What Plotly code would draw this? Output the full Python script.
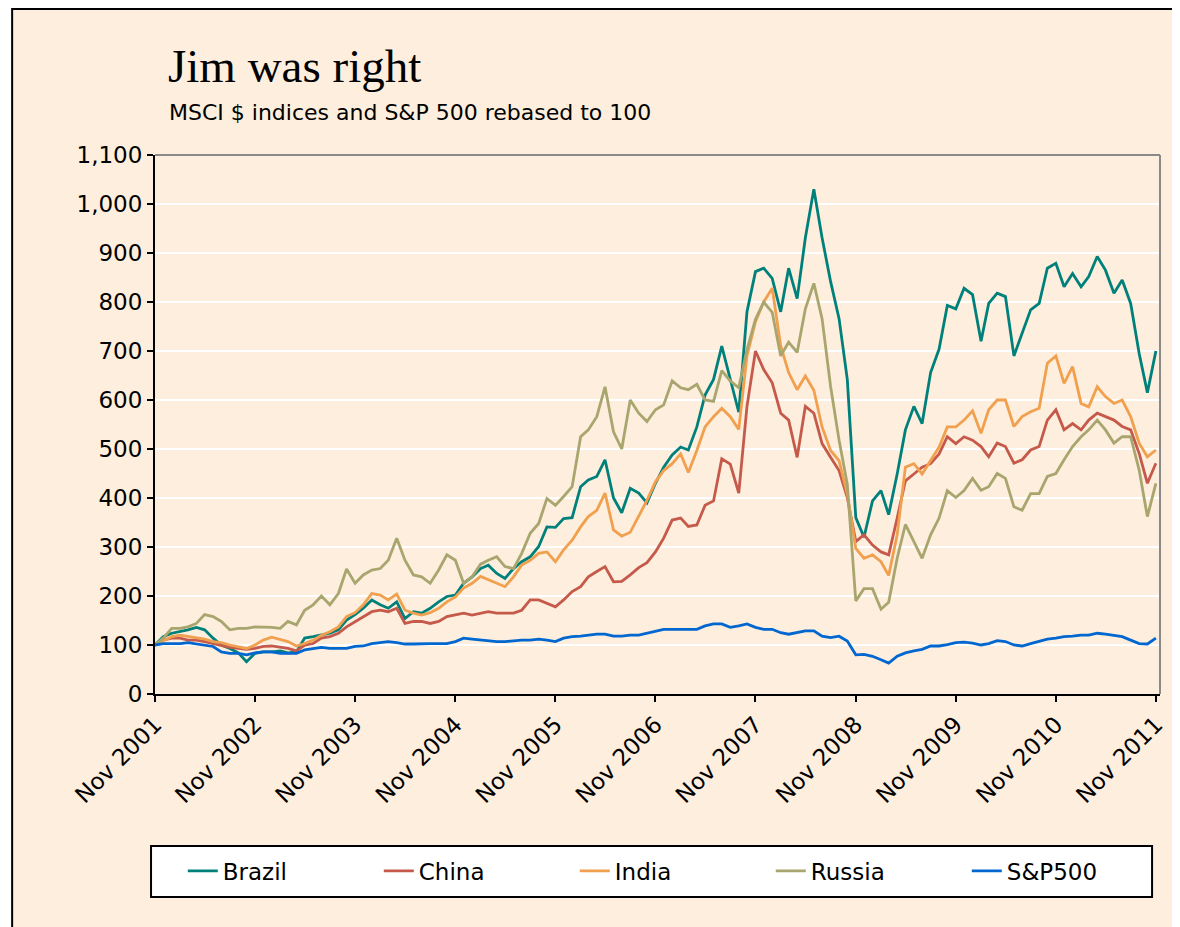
import pandas as pd
import plotly.graph_objects as go

# ---------------- data (monthly, Nov 2001 .. Nov 2011, rebased to 100) ----------------
dates = pd.date_range("2001-11-01", periods=121, freq="MS")

brazil = [100, 117, 124, 127, 131, 136, 131, 114, 100, 93, 84, 66, 83, 86, 86, 88, 84, 86, 114, 117,
          120, 124, 131, 151, 162, 175, 192, 182, 175, 188, 154, 168, 165, 175, 188, 199, 202, 226, 239, 256,
          263, 246, 236, 256, 270, 280, 301, 341, 340, 358, 360, 423, 437, 444, 478, 400, 370, 420, 410, 390,
          430, 463, 488, 504, 498, 545, 610, 642, 710, 642, 575, 780, 862, 869, 848, 780, 869, 807, 931, 1030,
          931, 842, 766, 642, 360, 320, 394, 415, 366, 449, 539, 587, 552, 656, 704, 793, 786, 828, 815, 720,
          797, 818, 811, 690, 736, 784, 797, 869, 879, 831, 858, 831, 852, 893, 865, 818, 845, 797, 695, 615,
          700]

china = [100, 110, 114, 114, 110, 110, 107, 103, 98, 95, 93, 91, 93, 97, 98, 95, 93, 88, 100, 103,
         114, 117, 124, 137, 148, 158, 168, 171, 168, 175, 144, 148, 148, 144, 148, 158, 161, 165, 161, 165,
         168, 165, 165, 165, 171, 192, 192, 185, 178, 192, 209, 219, 239, 250, 260, 229, 230, 243, 258, 268,
         290, 318, 355, 359, 342, 345, 385, 394, 480, 469, 410, 587, 700, 662, 635, 573, 559, 483, 587, 573,
         511, 483, 456, 401, 311, 325, 304, 290, 284, 359, 435, 449, 463, 470, 490, 525, 511, 525, 518, 505,
         484, 512, 505, 471, 478, 498, 505, 559, 580, 539, 552, 539, 559, 573, 566, 559, 546, 539, 491, 430,
         471]

india = [100, 108, 117, 120, 117, 114, 112, 107, 105, 100, 97, 93, 100, 110, 116, 112, 107, 98, 103, 110,
         120, 127, 137, 158, 166, 182, 205, 202, 192, 204, 171, 165, 161, 166, 175, 188, 198, 216, 226, 240,
         233, 226, 219, 239, 263, 273, 287, 290, 270, 294, 314, 341, 362, 375, 410, 335, 322, 330, 362, 395,
         433, 456, 470, 490, 452, 497, 545, 566, 583, 566, 540, 690, 760, 800, 828, 711, 656, 621, 649, 620,
         545, 497, 476, 408, 297, 277, 284, 270, 242, 325, 463, 470, 449, 476, 504, 545, 545, 559, 578, 532,
         580, 600, 600, 546, 566, 576, 583, 675, 690, 634, 668, 593, 586, 627, 607, 593, 600, 566, 512, 484,
         498]

russia = [100, 114, 134, 134, 137, 144, 162, 158, 148, 131, 134, 134, 137, 137, 136, 134, 148, 141, 171, 182,
          200, 182, 205, 255, 226, 243, 253, 256, 273, 318, 273, 243, 239, 226, 253, 284, 273, 226, 239, 265,
          273, 280, 260, 256, 287, 328, 348, 399, 385, 403, 423, 525, 539, 566, 627, 535, 500, 600, 573, 556,
          580, 590, 639, 625, 621, 632, 600, 597, 660, 639, 625, 703, 765, 800, 779, 690, 718, 697, 786, 838,
          766, 628, 518, 428, 190, 215, 215, 173, 187, 277, 346, 311, 277, 325, 359, 415, 401, 415, 440, 416,
          423, 450, 440, 382, 375, 409, 409, 444, 450, 478, 505, 525, 539, 559, 539, 512, 525, 525, 457, 362,
          430]

sp500 = [100, 103, 103, 103, 105, 102, 100, 97, 86, 83, 83, 80, 84, 86, 86, 83, 83, 83, 90, 93,
         95, 93, 93, 93, 97, 98, 103, 105, 107, 105, 102, 102, 103, 103, 103, 103, 107, 114, 112, 110,
         108, 107, 107, 109, 110, 110, 112, 110, 107, 114, 117, 118, 120, 122, 122, 118, 118, 120, 120, 124,
         129, 132, 132, 132, 132, 132, 139, 143, 143, 136, 139, 143, 136, 132, 132, 125, 122, 125, 129, 129,
         118, 115, 118, 108, 80, 81, 77, 70, 63, 77, 84, 88, 91, 98, 98, 101, 105, 106, 104, 100,
         103, 109, 107, 100, 98, 103, 107, 112, 114, 117, 118, 120, 120, 124, 122, 120, 117, 110, 103, 102,
         114]

series_names = ["Brazil", "China", "India", "Russia", "S&P500"]
series_values = [brazil, china, india, russia, sp500]
series_colors = ["#00807A", "#C55A4B", "#F0A04E", "#A8A66E", "#0066D0"]

tick_dates = ["2001-11-01", "2002-11-01", "2003-11-01", "2004-11-01", "2005-11-01", "2006-11-01",
              "2007-11-01", "2008-11-01", "2009-11-01", "2010-11-01", "2011-11-01"]
tick_labels = ["Nov 2001", "Nov 2002", "Nov 2003", "Nov 2004", "Nov 2005", "Nov 2006",
               "Nov 2007", "Nov 2008", "Nov 2009", "Nov 2010", "Nov 2011"]

title_text = "Jim was right"
subtitle_text = "MSCI $ indices and S&P 500 rebased to 100"

# ---------------- layout geometry ----------------
# the page body has an 8px margin, so the figure starts at screen (8, 8)
OFF = 8
W, H = 1172, 919
L, R, T, B = 147, 12, 147, 233
PW, PH = W - L - R, H - T - B


def px(xs):
    """screen x -> paper fraction"""
    return (xs - OFF - L) / PW


def py(ys):
    """screen y -> paper fraction"""
    return (H - B - (ys - OFF)) / PH


fig = go.Figure()
for name, vals, col in zip(series_names, series_values, series_colors):
    fig.add_trace(go.Scatter(x=dates, y=vals, name=name, mode="lines",
                             line=dict(color=col, width=2.8)))

sans = "DejaVu Sans, Verdana, sans-serif"

fig.update_layout(
    width=W, height=H,
    margin=dict(l=L, r=R, t=T, b=B),
    paper_bgcolor="white",
    plot_bgcolor="#DEDDD0",
    font=dict(family=sans, color="black", size=20),
    showlegend=True,
    legend=dict(orientation="h", x=px(183), xanchor="left", y=py(871), yanchor="middle",
                bgcolor="rgba(0,0,0,0)", borderwidth=0,
                font=dict(family=sans, size=23, color="black"),
                entrywidth=151, entrywidthmode="pixels"),
    xaxis=dict(type="date", range=["2001-11-01", "2011-11-16"],
               tickmode="array", tickvals=tick_dates, ticktext=tick_labels,
               tickangle=-45, tickfont=dict(family=sans, size=23, color="black"),
               ticks="outside", ticklen=6, tickwidth=2, tickcolor="black",
               showline=True, linecolor="black", linewidth=2,
               showgrid=False, zeroline=False),
    yaxis=dict(range=[0, 1100], tick0=0, dtick=100, tickformat=",d",
               tickfont=dict(family=sans, size=23, color="black"),
               ticks="outside", ticklen=6, tickwidth=2, tickcolor="black",
               showline=True, linecolor="black", linewidth=2,
               showgrid=True, gridcolor="white", gridwidth=2, zeroline=False),
    shapes=[
        # cream chart frame with black border
        dict(type="rect", xref="paper", yref="paper", layer="below",
             x0=px(11), x1=px(1200), y0=py(960), y1=py(9),
             fillcolor="#FDEEDD", line=dict(color="black", width=2)),
        # grey top and right plot borders
        dict(type="line", xref="paper", yref="paper", x0=0, x1=1, y0=1, y1=1,
             line=dict(color="#8A8A8A", width=2)),
        dict(type="line", xref="paper", yref="paper", x0=1, x1=1, y0=0, y1=1,
             line=dict(color="#8A8A8A", width=2)),
        # legend box
        dict(type="rect", xref="paper", yref="paper", layer="above",
             x0=px(151), x1=px(1160), y0=py(897), y1=py(846),
             fillcolor="white", line=dict(color="black", width=2)),
    ],
    annotations=[
        dict(text=title_text, xref="paper", yref="paper", x=px(166), y=py(66),
             xanchor="left", yanchor="middle", showarrow=False,
             font=dict(family="Liberation Serif, Times New Roman, serif", size=47, color="black")),
        dict(text=subtitle_text, xref="paper", yref="paper", x=px(167), y=py(112),
             xanchor="left", yanchor="middle", showarrow=False,
             font=dict(family=sans, size=22, color="black")),
    ],
)

fig.write_html("out.html")
